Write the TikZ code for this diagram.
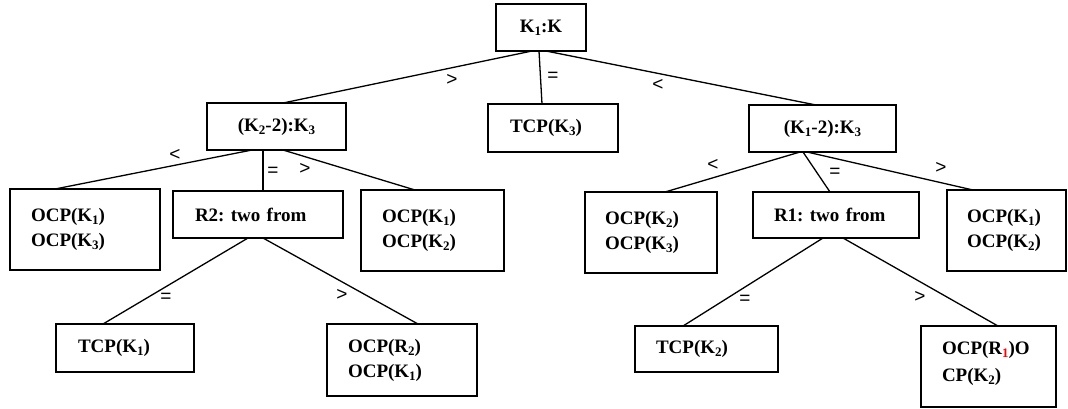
\documentclass[tikz,border=0pt]{standalone}
\usepackage{fontspec}
\setmainfont{Liberation Serif}
\newfontfamily\relfont{Liberation Sans}
\usetikzlibrary{calc}
\frenchspacing
% lowered small index digit
\newcommand{\idx}[1]{\raisebox{-3pt}{\fontsize{13}{13}\selectfont #1}}
\tikzset{
  box/.style={draw, line width=1.6pt, outer sep=0pt, inner sep=0pt, anchor=north west,
              font=\fontsize{19}{25}\selectfont\bfseries},
  cbox/.style={box, align=center},
  lbox/.style={box, align=left},
  edge/.style={line width=1.3pt},
  rel/.style={font=\relfont\fontsize{19}{19}\selectfont, inner sep=0pt}
}
\begin{document}
\begin{tikzpicture}[x=1pt, y=-1pt]
\useasboundingbox (0,0) rectangle (1068,408);

% level 0
\node[cbox, minimum width=90, minimum height=47] (root) at (496,4) {K\idx{1}:K};

% level 1
\node[cbox, minimum width=139, minimum height=47] (k2) at (207,103) {(K\idx{2}-2):K\idx{3}};
\node[lbox, minimum height=48, inner xsep=22pt, text width=86pt] (tk3) at (488,104) {TCP(K\idx{3})};
\node[cbox, minimum width=147, minimum height=47] (k1) at (749,105) {(K\idx{1}-2):K\idx{3}};

% level 2
\node[lbox, minimum height=81, inner xsep=21pt, text width=108pt] (a) at (10,189) {OCP(K\idx{1})\\OCP(K\idx{3})};
\node[lbox, minimum height=47, inner xsep=22pt, text width=126pt] (r2) at (173,191) {R2: two from};
\node[lbox, minimum height=81, inner xsep=21pt, text width=101pt] (b) at (361,190) {OCP(K\idx{1})\\OCP(K\idx{2})};
\node[lbox, minimum height=81, inner xsep=20pt, text width=92pt] (c) at (585,192) {OCP(K\idx{2})\\OCP(K\idx{3})};
\node[lbox, minimum height=46, inner xsep=21pt, text width=124pt] (r1) at (753,192) {R1: two from};
\node[lbox, minimum height=81, inner xsep=20pt, text width=79pt] (d) at (947,190) {OCP(K\idx{1})\\OCP(K\idx{2})};

% level 3
\node[lbox, minimum height=48, inner xsep=22pt, text width=94pt] (t1) at (56,324) {TCP(K\idx{1})};
\node[lbox, minimum height=72, inner xsep=21pt, text width=108pt] (e2) at (327,324) {OCP(R\idx{2})\\OCP(K\idx{1})};
\node[lbox, minimum height=46, inner xsep=21pt, text width=101pt] (t2) at (635,326) {TCP(K\idx{2})};
\node[lbox, minimum height=81, inner xsep=21pt, text width=93pt, text depth=38pt] (e1) at (921,326)
  {OCP(R{\color{red}\idx{1}})O\\[2pt]CP(K\idx{2})};

% connectors
\draw[edge] ($(root.south west)+(36,0)$) -- ($(k2.north west)+(76,0)$);
\draw[edge] ($(root.south west)+(43,0)$) -- ($(tk3.north west)+(54,0)$);
\draw[edge] ($(root.south west)+(50,0)$) -- ($(k1.north west)+(67,0)$);

\draw[edge] ($(k2.south west)+(45,0)$) -- ($(a.north west)+(45,0)$);
\draw[edge] ($(k2.south west)+(56,0)$) -- ($(r2.north west)+(90,0)$);
\draw[edge] ($(k2.south west)+(76,0)$) -- ($(b.north west)+(54,0)$);

\draw[edge] ($(k1.south west)+(51,0)$) -- ($(c.north west)+(80,0)$);
\draw[edge] ($(k1.south west)+(54,0)$) -- ($(r1.north west)+(77,0)$);
\draw[edge] ($(k1.south west)+(58,0)$) -- ($(d.north west)+(26,0)$);

\draw[edge] ($(r2.south west)+(75,0)$) -- ($(t1.north west)+(47,0)$);
\draw[edge] ($(r2.south west)+(90,0)$) -- ($(e2.north west)+(91,0)$);

\draw[edge] ($(r1.south west)+(70,0)$) -- ($(t2.north west)+(48,0)$);
\draw[edge] ($(r1.south west)+(90,0)$) -- ($(e1.north west)+(77,0)$);

% relation labels
\node[rel] (l1) at (452,80) {>};
\node[rel] (l2) at (553,77) {=};
\node[rel] (l3) at (658,85) {<};
\node[rel] (l4) at (175,155) {<};
\node[rel] (l5) at (273,172) {=};
\node[rel] (l6) at (305,169) {>};
\node[rel] (l7) at (713,165) {<};
\node[rel] (l8) at (835,173) {=};
\node[rel] (l9) at (941,168) {>};
\node[rel] (l10) at (166,298) {=};
\node[rel] (l11) at (342,295) {>};
\node[rel] (l12) at (745,300) {=};
\node[rel] (l13) at (920,297) {>};
\end{tikzpicture}
\end{document}
